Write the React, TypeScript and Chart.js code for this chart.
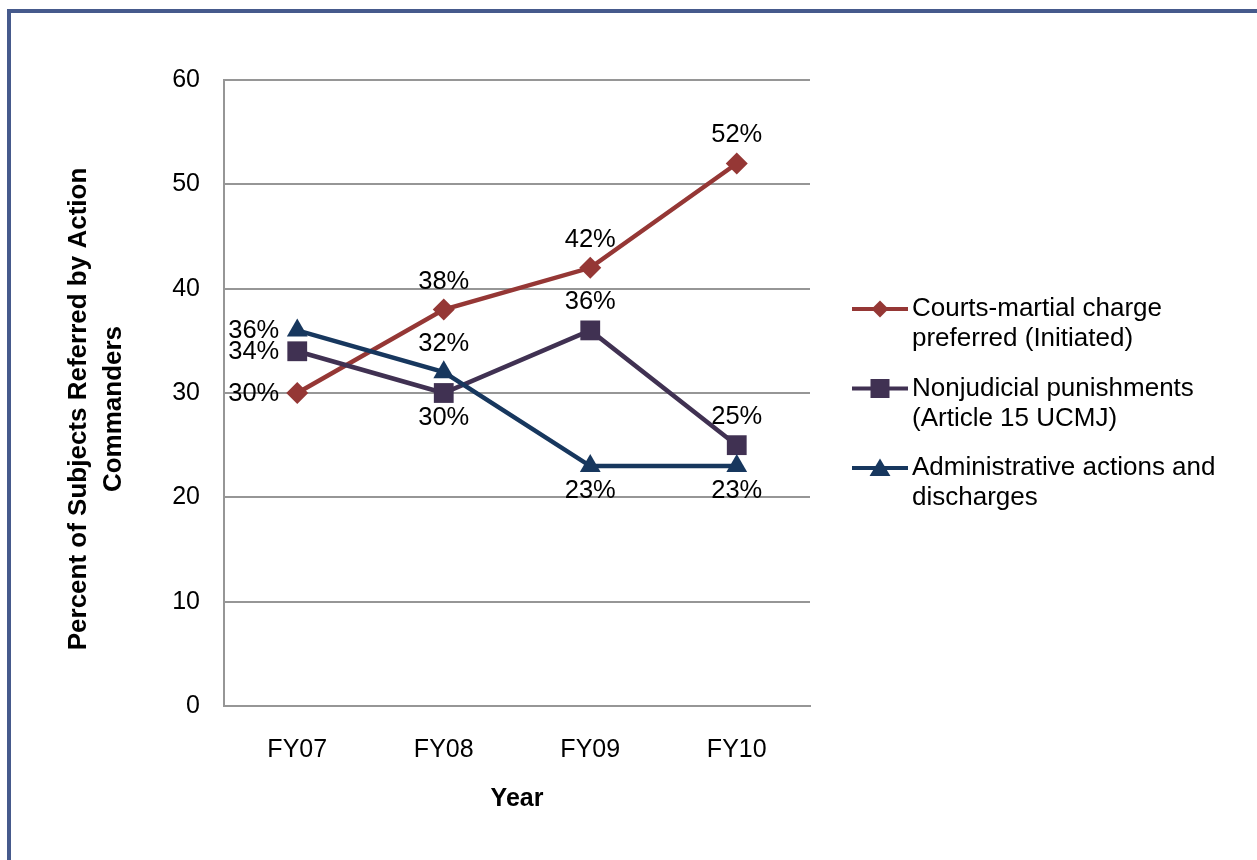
import React, { useEffect, useRef } from "react";
import { Chart, registerables } from "chart.js";

Chart.register(...registerables);

const categories = ["FY07", "FY08", "FY09", "FY10"];
const courtsMartial = [30, 38, 42, 52];
const nonjudicial = [34, 30, 36, 25];
const administrative = [36, 32, 23, 23];
const yTicks = [0, 10, 20, 30, 40, 50, 60];
const seriesLabels = [
  ["Courts-martial charge", "preferred (Initiated)"],
  ["Nonjudicial punishments", "(Article 15 UCMJ)"],
  ["Administrative actions and", "discharges"],
];
const yTitle = ["Percent of Subjects Referred by Action", "Commanders"];
const xTitle = "Year";

const FONT = "'Liberation Sans', Arial, Helvetica, sans-serif";
const COLORS = ["#953735", "#403152", "#17375e"];
const SHAPES = ["rectRot", "rect", "triangle"];
const RADII = [11, 14, 12];
const LABEL_PLACEMENT = [
  ["left", "above", "above", "above"],
  ["left", "below", "above", "above"],
  ["left", "above", "below", "below"],
];

function drawMarker(ctx: CanvasRenderingContext2D, shape: string, x: number, y: number, size: number) {
  ctx.beginPath();
  if (shape === "rectRot") {
    ctx.moveTo(x - size, y);
    ctx.lineTo(x, y - size);
    ctx.lineTo(x + size, y);
    ctx.lineTo(x, y + size);
  } else if (shape === "rect") {
    ctx.rect(x - size, y - size, size * 2, size * 2);
  } else {
    ctx.moveTo(x, y - size);
    ctx.lineTo(x + size * 1.1, y + size * 0.85);
    ctx.lineTo(x - size * 1.1, y + size * 0.85);
  }
  ctx.closePath();
  ctx.fill();
}

const dataLabelPlugin = {
  id: "dataLabels",
  afterDatasetsDraw(chart: any) {
    const ctx = chart.ctx as CanvasRenderingContext2D;
    ctx.save();
    ctx.font = `25.5px ${FONT}`;
    ctx.fillStyle = "#000000";
    chart.data.datasets.forEach((ds: any, i: number) => {
      const meta = chart.getDatasetMeta(i);
      meta.data.forEach((el: any, j: number) => {
        const text = `${ds.data[j]}%`;
        const place = LABEL_PLACEMENT[i][j];
        ctx.textBaseline = "middle";
        if (place === "left") {
          ctx.textAlign = "right";
          ctx.fillText(text, el.x - 18, el.y + 1);
        } else if (place === "above") {
          ctx.textAlign = "center";
          ctx.fillText(text, el.x, el.y - 28);
        } else {
          ctx.textAlign = "center";
          ctx.fillText(text, el.x, el.y + 25);
        }
      });
    });
    ctx.restore();
  },
};

const legendAndTitlePlugin = {
  id: "legendAndTitle",
  afterDraw(chart: any) {
    const ctx = chart.ctx as CanvasRenderingContext2D;
    const area = chart.chartArea;
    const mid = (area.top + area.bottom) / 2;
    ctx.save();
    // Y axis title (two lines, rotated)
    ctx.font = `bold 26px ${FONT}`;
    ctx.fillStyle = "#000000";
    ctx.textAlign = "center";
    ctx.textBaseline = "middle";
    yTitle.forEach((line, k) => {
      ctx.save();
      ctx.translate(area.left - 145 + k * 35, mid + 16);
      ctx.rotate(-Math.PI / 2);
      ctx.fillText(line, 0, 0);
      ctx.restore();
    });
    // Legend
    const x0 = area.right + 42;
    const lineLen = 56;
    const textX = x0 + 60;
    const firstY = mid - 84;
    ctx.font = `26px ${FONT}`;
    ctx.textAlign = "left";
    seriesLabels.forEach((lines, i) => {
      const y = firstY + i * 79.5;
      ctx.strokeStyle = COLORS[i];
      ctx.fillStyle = COLORS[i];
      ctx.lineWidth = 4;
      ctx.beginPath();
      ctx.moveTo(x0, y);
      ctx.lineTo(x0 + lineLen, y);
      ctx.stroke();
      drawMarker(ctx, SHAPES[i], x0 + lineLen / 2, y, i === 0 ? 8.5 : 9.5);
      ctx.fillStyle = "#000000";
      lines.forEach((t, k) => ctx.fillText(t, textX, y + k * 30));
    });
    ctx.restore();
  },
};

export default function App() {
  const canvasRef = useRef<HTMLCanvasElement | null>(null);

  useEffect(() => {
    if (!canvasRef.current) return;
    Chart.defaults.font.family = FONT;
    const seriesData = [courtsMartial, nonjudicial, administrative];
    const chart = new Chart(canvasRef.current, {
      type: "line",
      data: {
        labels: categories,
        datasets: seriesData.map((d, i) => ({
          label: seriesLabels[i].join(" "),
          data: d,
          borderColor: COLORS[i],
          backgroundColor: COLORS[i],
          borderWidth: 4.5,
          pointStyle: SHAPES[i] as any,
          pointRadius: RADII[i],
          pointBorderWidth: 0,
          pointBackgroundColor: COLORS[i],
          pointBorderColor: COLORS[i],
          tension: 0,
          order: 2 - i,
          clip: false as any,
        })),
      },
      options: {
        responsive: false,
        animation: false,
        devicePixelRatio: 1,
        layout: { padding: { left: 0, top: 80, right: 447, bottom: 34 } },
        plugins: {
          legend: { display: false },
          tooltip: { enabled: false },
        },
        scales: {
          x: {
            offset: true,
            grid: { display: false, drawTicks: false },
            border: { display: true, color: "#969696", width: 2 },
            ticks: { color: "#000000", font: { size: 25, family: FONT }, padding: 29 },
            title: {
              display: true,
              text: xTitle,
              color: "#000000",
              font: { size: 25, weight: "bold", family: FONT },
              padding: { top: 0, bottom: 12 },
            },
            afterFit: (s: any) => {
              s.height = 120;
            },
          },
          y: {
            min: 0,
            max: 60,
            grid: { color: "#969696", lineWidth: 2, drawTicks: false },
            border: { display: true, color: "#969696", width: 2 },
            ticks: { color: "#000000", font: { size: 25, family: FONT }, padding: 24, stepSize: 10 },
            afterBuildTicks: (s: any) => {
              s.ticks = yTicks.map((v) => ({ value: v }));
            },
            afterFit: (s: any) => {
              s.width = 224;
            },
          },
        },
      },
      plugins: [dataLabelPlugin, legendAndTitlePlugin],
    });
    return () => chart.destroy();
  }, []);

  return (
    <>
      <div
        style={{
          position: "absolute",
          left: 7,
          top: 9,
          width: 1250,
          height: 851,
          boxSizing: "border-box",
          borderTop: "4px solid #465a8c",
          borderLeft: "4px solid #465a8c",
        }}
      />
      <canvas
        ref={canvasRef}
        width={1257}
        height={860}
        style={{ position: "absolute", left: 0, top: 0, width: 1257, height: 860 }}
      />
    </>
  );
}
